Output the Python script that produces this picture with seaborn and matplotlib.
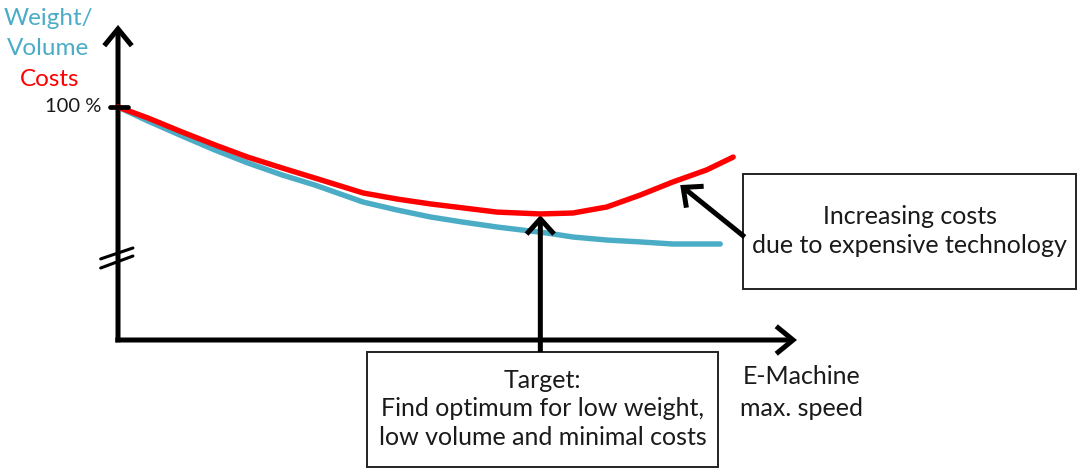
import numpy as np
import pandas as pd
import matplotlib
matplotlib.use('Agg')
import matplotlib.pyplot as plt
import seaborn as sns
from matplotlib.patches import Rectangle

# speed in % of axis length, value in % (100 % at start)
costs_speed = [0, 4.4, 9.4, 14.3, 19.1, 24.2, 29.0, 36.1, 41.1, 46.0, 50.8,
               55.8, 62.2, 67.0, 72.0, 76.9, 81.7, 86.7, 90.6]
costs_value = [100, 95.3, 89.3, 83.7, 78.5, 73.8, 69.5, 63.1, 60.5, 58.4, 56.7,
               54.9, 54.1, 54.5, 57.1, 62.2, 67.8, 73.0, 78.5]

weight_speed = [0, 4.4, 9.4, 14.3, 19.1, 24.2, 29.0, 36.1, 41.1, 46.0, 50.8,
                55.8, 63.2, 67.0, 72.0, 76.9, 81.7, 88.7]
weight_value = [100, 94.0, 87.6, 81.5, 76.0, 70.8, 66.5, 59.2, 55.8, 52.8, 50.6,
                48.5, 45.9, 44.2, 42.9, 42.1, 41.2, 41.2]

optimum_speed = 62.2
optimum_value = 54.1

y_label_weight = ['Weight/', 'Volume']
y_label_costs = 'Costs'
x_label = ['E-Machine', 'max. speed']
tick_label = '100 %'
note_costs = 'Increasing costs\ndue to expensive technology'
note_target = 'Target:\nFind optimum for low weight,\nlow volume and minimal costs'

BLUE = '#4BACC6'
RED = '#FF0000'
TXT = '#1a1a1a'


def arrow(ax, tail, tip, lw=3.6, hl=0.55, hw=0.45, ms=22):
    ax.annotate('', xy=tip, xytext=tail,
                arrowprops=dict(arrowstyle='->,head_length=%s,head_width=%s' % (hl, hw),
                                lw=lw, color='black', shrinkA=0, shrinkB=0,
                                mutation_scale=ms, capstyle='butt',
                                joinstyle='miter'))


def main():
    sns.set_style('white')
    plt.rcParams['font.family'] = ['Lato', 'DejaVu Sans']

    fig = plt.figure(figsize=(10.8, 4.73), dpi=100)
    ax = fig.add_axes([0, 0, 1, 1])
    ax.set_xlim(-17.38, 141.68)
    ax.set_ylim(-57.08, 145.92)
    ax.axis('off')

    # curves
    sns.lineplot(x=weight_speed, y=weight_value, ax=ax, color=BLUE, linewidth=3.9,
                 solid_capstyle='round', solid_joinstyle='round', zorder=3)
    sns.lineplot(x=costs_speed, y=costs_value, ax=ax, color=RED, linewidth=3.9,
                 solid_capstyle='round', solid_joinstyle='round', zorder=4)

    # axes arrows
    arrow(ax, (0, -1.0), (0, 135.2))
    arrow(ax, (-0.4, 0), (100, 0))

    # 100 % tick and axis break
    ax.plot([-1.2, 1.5], [100, 100], color='black', lw=3.4, zorder=5)
    ax.text(-2.4, 100, tick_label, ha='right', va='center', fontsize=14.5, color=TXT)
    ax.plot([-2.55, 2.2], [34.8, 39.5], color='black', lw=2.2, zorder=5)
    ax.plot([-2.55, 2.2], [30.9, 36.05], color='black', lw=2.2, zorder=5)

    # y labels
    ax.text(-10.3, 138.0, y_label_weight[0], ha='center', va='center', fontsize=17.5, color=BLUE)
    ax.text(-10.3, 125.0, y_label_weight[1], ha='center', va='center', fontsize=17.5, color=BLUE)
    ax.text(-10.1, 111.6, y_label_costs, ha='center', va='center', fontsize=17.5, color=RED)

    # x label
    ax.text(100.7, -15.5, x_label[0], ha='center', va='center', fontsize=18, color=TXT)
    ax.text(100.7, -29.2, x_label[1], ha='center', va='center', fontsize=18, color=TXT)

    # note boxes
    ax.add_patch(Rectangle((92.05, 21.9), 141.1 - 92.05, 71.2 - 21.9, fill=False,
                           ec='#222222', lw=1.4, zorder=2))
    ax.text(116.6, 46.8, note_costs, ha='center', va='center', fontsize=18,
            color=TXT, linespacing=1.3)
    arrow(ax, (92.3, 44.2), (82.8, 66.5), lw=3.6, hl=0.5, hw=0.45, ms=22)

    ax.add_patch(Rectangle((36.7, -54.5), 88.4 - 36.7, -5.15 + 54.5, fill=False,
                           ec='#222222', lw=1.4, zorder=2))
    ax.text(62.5, -29.5, note_target, ha='center', va='center', fontsize=18,
            color=TXT, linespacing=1.3)
    arrow(ax, (optimum_speed, -5.15), (optimum_speed, optimum_value - 0.5),
          lw=3.6, hl=0.5, hw=0.45, ms=22)

    fig.savefig('out.png', dpi=100)


if __name__ == '__main__':
    main()
